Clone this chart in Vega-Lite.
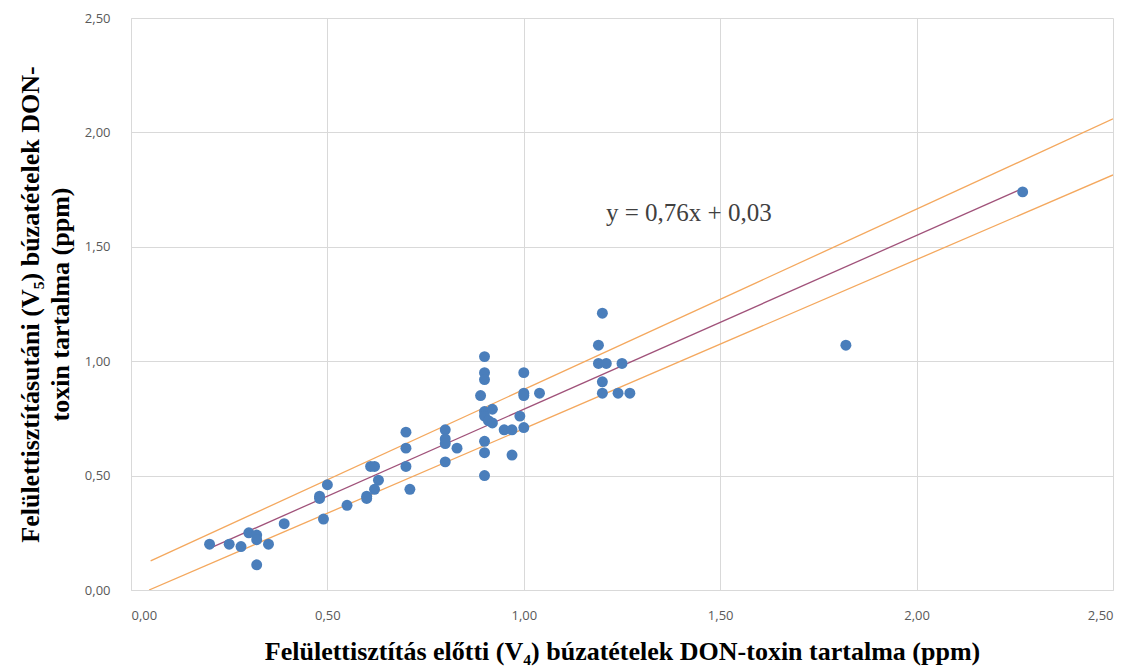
{
  "$schema": "https://vega.github.io/schema/vega-lite/v6.json",
  "autosize": {"type": "none"},
  "width": 982,
  "height": 572,
  "padding": {"left": 131, "top": 18, "right": 24, "bottom": 80},
  "background": "white",
  "config": {
    "locale": {"number": {"decimal": ",", "thousands": " ", "grouping": [3], "currency": ["", ""]}},
    "view": {"stroke": null},
    "axis": {
      "grid": true, "gridColor": "#D9D9D9", "gridWidth": 1,
      "domainColor": "#D9D9D9", "ticks": false,
      "labelColor": "#595959", "labelFont": "Open Sans", "labelFontSize": 13,
      "titleFont": "Liberation Serif", "titleFontWeight": "bold", "titleColor": "#000000", "titleFontSize": 26
    }
  },
  "datasets": {
    "points": [
      {"x":0.20,"y":0.20},{"x":0.25,"y":0.20},{"x":0.28,"y":0.19},{"x":0.30,"y":0.25},{"x":0.32,"y":0.24},{"x":0.32,"y":0.22},{"x":0.32,"y":0.11},{"x":0.35,"y":0.20},{"x":0.39,"y":0.29},{"x":0.48,"y":0.41},{"x":0.48,"y":0.40},{"x":0.50,"y":0.46},{"x":0.49,"y":0.31},{"x":0.55,"y":0.37},{"x":0.60,"y":0.41},{"x":0.60,"y":0.40},{"x":0.61,"y":0.54},{"x":0.62,"y":0.54},{"x":0.63,"y":0.48},{"x":0.62,"y":0.44},{"x":0.70,"y":0.69},{"x":0.70,"y":0.62},{"x":0.70,"y":0.54},{"x":0.71,"y":0.44},{"x":0.80,"y":0.70},{"x":0.80,"y":0.66},{"x":0.80,"y":0.64},{"x":0.83,"y":0.62},{"x":0.80,"y":0.56},{"x":0.90,"y":1.02},{"x":0.90,"y":0.95},{"x":0.90,"y":0.92},{"x":0.89,"y":0.85},{"x":0.90,"y":0.78},{"x":0.92,"y":0.79},{"x":0.90,"y":0.76},{"x":0.91,"y":0.74},{"x":0.92,"y":0.73},{"x":0.90,"y":0.65},{"x":0.90,"y":0.60},{"x":0.90,"y":0.50},{"x":0.95,"y":0.70},{"x":0.97,"y":0.70},{"x":0.97,"y":0.59},{"x":0.99,"y":0.76},{"x":1.00,"y":0.71},{"x":1.00,"y":0.95},{"x":1.00,"y":0.86},{"x":1.00,"y":0.85},{"x":1.04,"y":0.86},{"x":1.19,"y":1.07},{"x":1.19,"y":0.99},{"x":1.21,"y":0.99},{"x":1.25,"y":0.99},{"x":1.20,"y":0.91},{"x":1.20,"y":0.86},{"x":1.24,"y":0.86},{"x":1.27,"y":0.86},{"x":1.20,"y":1.21},{"x":1.82,"y":1.07},{"x":2.27,"y":1.74}
    ],
    "trend": [
      {"x":0.20,"y":0.182},{"x":2.27,"y":1.755}
    ],
    "bounds": [
      {"band":"upper","x":0.05,"y":0.127},{"band":"upper","x":2.50,"y":2.059},
      {"band":"lower","x":0.046,"y":0.0},{"band":"lower","x":2.50,"y":1.814}
    ],
    "label": [
      {"x":1.42,"y":1.648,"text":"y = 0,76x + 0,03"}
    ]
  },
  "layer": [
    {
      "data": {"name": "bounds"},
      "mark": {"type": "line", "color": "#F4A85E", "strokeWidth": 1.3, "clip": true},
      "encoding": {
        "x": {"field": "x", "type": "quantitative", "scale": {"domain": [0, 2.5], "nice": false},
          "axis": {"values": [0, 0.5, 1, 1.5, 2, 2.5], "format": ".2f", "labelPadding": 19, "title": "Felülettisztítás előtti (V₄) búzatételek DON-toxin tartalma (ppm)", "titleY": 48, "titleBaseline": "top"}},
        "y": {"field": "y", "type": "quantitative", "scale": {"domain": [0, 2.5], "nice": false},
          "axis": {"values": [0, 0.5, 1, 1.5, 2, 2.5], "format": ".2f", "labelPadding": 21,
            "title": ["Felülettisztításutáni (V₅) búzatételek DON-", "toxin tartalma (ppm)"],
            "titleX": -114, "titleY": 286, "titleAngle": -90, "titleBaseline": "top", "titleAlign": "center", "titleLineHeight": 30}},
        "detail": {"field": "band"}
      }
    },
    {
      "data": {"name": "trend"},
      "mark": {"type": "line", "color": "#A0527A", "strokeWidth": 1.3},
      "encoding": {
        "x": {"field": "x", "type": "quantitative"},
        "y": {"field": "y", "type": "quantitative"}
      }
    },
    {
      "data": {"name": "points"},
      "mark": {"type": "circle", "color": "#4A7EBB", "opacity": 1, "size": 120},
      "encoding": {
        "x": {"field": "x", "type": "quantitative"},
        "y": {"field": "y", "type": "quantitative"}
      }
    },
    {
      "data": {"name": "label"},
      "mark": {"type": "text", "font": "Liberation Serif", "fontSize": 25, "color": "#404040", "align": "center", "baseline": "middle"},
      "encoding": {
        "x": {"field": "x", "type": "quantitative"},
        "y": {"field": "y", "type": "quantitative"},
        "text": {"field": "text"}
      }
    }
  ]
}
